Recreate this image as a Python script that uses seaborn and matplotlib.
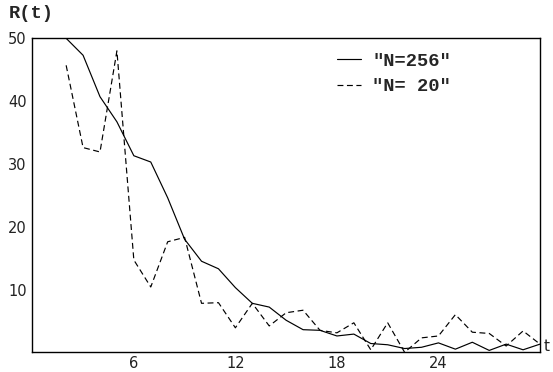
import matplotlib
matplotlib.use("Agg")
import matplotlib.pyplot as plt
import seaborn as sns
import pandas as pd
from matplotlib.lines import Line2D

t = list(range(2, 31))
r_256 = [50.0, 47.3, 40.7, 36.7, 31.3, 30.3, 24.6, 18.0, 14.5, 13.3, 10.3, 7.8, 7.2,
         5.1, 3.6, 3.5, 2.6, 2.9, 1.4, 1.2, 0.6, 0.8, 1.5, 0.5, 1.6, 0.3, 1.3, 0.4, 1.3]
r_20 = [45.7, 32.6, 31.9, 48.0, 14.7, 10.4, 17.6, 18.3, 7.8, 7.9, 3.9, 7.8, 4.2,
        6.3, 6.7, 3.5, 3.1, 4.7, 0.4, 4.7, 0.0, 2.3, 2.6, 6.0, 3.2, 3.0, 1.0, 3.4, 1.3]
labels = ['"N=256"', '"N= 20"']
x_ticks = [6, 12, 18, 24]
y_ticks = [10, 20, 30, 40, 50]

df = pd.DataFrame({
    "t": t + t,
    "R": r_256 + r_20,
    "N": [labels[0]] * len(t) + [labels[1]] * len(t),
})

sns.set_theme(style="white")
plt.rcParams["font.family"] = ["DejaVu Sans"]

fig = plt.figure(figsize=(5.53, 3.72), dpi=100)
ax = fig.add_axes([32.3 / 553, (372 - 352.3) / 372, (540 - 32.3) / 553, (352.3 - 38.3) / 372])

dash = (5, 3)
sns.lineplot(data=df, x="t", y="R", style="N", color="black",
             dashes={labels[0]: "", labels[1]: dash}, linewidth=0.85,
             legend=False, ax=ax)

ax.set_xlim(0, 30)
ax.set_ylim(0, 50)
ax.set_xticks(x_ticks)
ax.set_yticks(y_ticks)
ax.set_xlabel("")
ax.set_ylabel("")
for s in ax.spines.values():
    s.set_visible(True)
    s.set_color("black")
    s.set_linewidth(1.0)
ax.tick_params(direction="inout", length=5, width=0.8, color="black",
               labelsize=10.5, labelcolor="#222222", pad=1.5)
ax.tick_params(axis="x", pad=0.5)

mono = {"family": "Liberation Mono", "weight": "bold"}
fig.text(9 / 553, 1 - 14 / 372, "R(t)", fontdict=mono, fontsize=13.5, va="center", ha="left")
ax.text(1.008, 0.018, "t", transform=ax.transAxes, fontsize=11, color="#222222",
        va="center", ha="left")

handles = [Line2D([], [], color="black", lw=0.85),
           Line2D([], [], color="black", lw=0.85, linestyle=(0, dash))]
ax.legend(handles, labels, loc="upper left", bbox_to_anchor=(0.582, 0.985),
          frameon=False, borderpad=0, handlelength=1.28, handletextpad=0.6,
          labelspacing=0.45, prop={"family": "Liberation Mono", "weight": "bold", "size": 13.5})

fig.savefig("out.png", dpi=100)
